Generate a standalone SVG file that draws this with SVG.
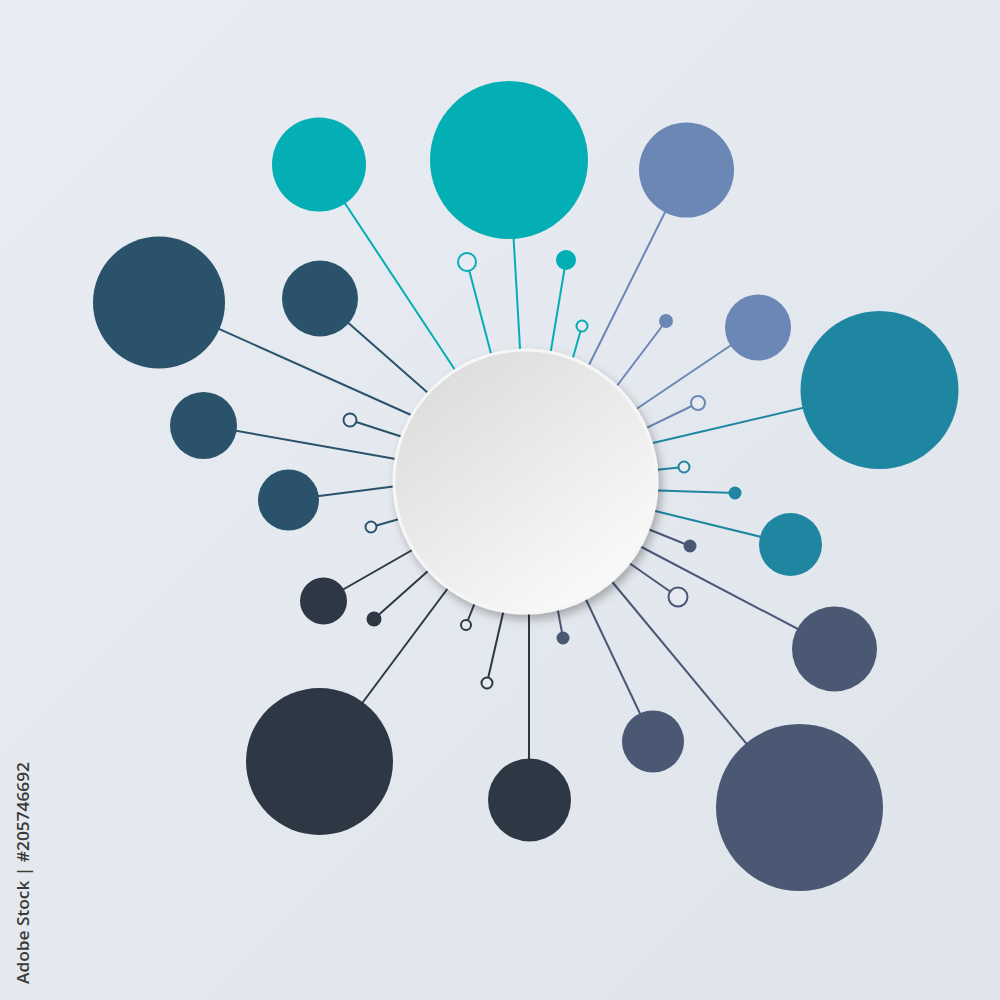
<svg xmlns="http://www.w3.org/2000/svg" width="1000" height="1000" viewBox="0 0 1000 1000">
<defs>
<linearGradient id="bg" x1="0" y1="0" x2="1" y2="1">
<stop offset="0" stop-color="#e9edf3"/>
<stop offset="1" stop-color="#dfe4eb"/>
</linearGradient>
<linearGradient id="hub" x1="0.2" y1="0.1" x2="0.85" y2="0.95">
<stop offset="0" stop-color="#dedede"/>
<stop offset="1" stop-color="#fbfbfb"/>
</linearGradient>
<filter id="shadow" x="-20%" y="-20%" width="140%" height="140%">
<feDropShadow dx="3" dy="5" stdDeviation="5" flood-color="#000" flood-opacity="0.28"/>
</filter>
<style>
.teal{fill:#03aeb4}.bg1{fill:#6b87b6}.tb{fill:#1f86a2}.sl{fill:#4b5874}.ch{fill:#2e3744}.db{fill:#2a526a}
.hteal{fill:#e7ebf1;stroke:#03aeb4;stroke-width:2}.hbg1{fill:#e7ebf1;stroke:#6b87b6;stroke-width:2}
.htb{fill:#e7ebf1;stroke:#1f86a2;stroke-width:2}.hsl{fill:#e7ebf1;stroke:#4b5874;stroke-width:2}
.hch{fill:#e7ebf1;stroke:#2e3744;stroke-width:2}.hdb{fill:#e7ebf1;stroke:#2a526a;stroke-width:2}
#connectors line{stroke-width:2;fill:none}
.lteal{stroke:#03aeb4}.lbg1{stroke:#6b87b6}.ltb{stroke:#1f86a2}.lsl{stroke:#4b5874}.lch{stroke:#2e3744}.ldb{stroke:#2a526a}
</style>
</defs>
<rect width="1000" height="1000" fill="url(#bg)"/>
<g id="connectors">
<line class="lteal" x1="509" y1="160" x2="521" y2="365"/>
<line class="lteal" x1="319" y1="164" x2="461" y2="379"/>
<line class="lteal" x1="467" y1="262" x2="494" y2="365"/>
<line class="lteal" x1="566" y1="260" x2="549" y2="362"/>
<line class="lteal" x1="582" y1="326" x2="570" y2="368"/>
<line class="lbg1" x1="686" y1="170" x2="583" y2="377"/>
<line class="lbg1" x1="666" y1="321" x2="610" y2="395"/>
<line class="lbg1" x1="758" y1="327" x2="626" y2="416"/>
<line class="lbg1" x1="698" y1="403" x2="636" y2="433"/>
<line class="ltb" x1="879" y1="390" x2="640" y2="446"/>
<line class="ltb" x1="684" y1="467" x2="645" y2="471"/>
<line class="ltb" x1="735" y1="493" x2="643" y2="490"/>
<line class="ltb" x1="790" y1="544" x2="643" y2="508"/>
<line class="lsl" x1="690" y1="546" x2="638" y2="525"/>
<line class="lsl" x1="834" y1="648" x2="632" y2="542"/>
<line class="lsl" x1="678" y1="597" x2="622" y2="558"/>
<line class="lsl" x1="799" y1="807" x2="604" y2="572"/>
<line class="lsl" x1="653" y1="741" x2="581" y2="589"/>
<line class="lsl" x1="563" y1="638" x2="556" y2="600"/>
<line class="lch" x1="529" y1="800" x2="529" y2="600"/>
<line class="lch" x1="487" y1="683" x2="506" y2="600"/>
<line class="lch" x1="466" y1="625" x2="478" y2="595"/>
<line class="lch" x1="319" y1="761" x2="454" y2="580"/>
<line class="lch" x1="374" y1="619" x2="437" y2="563"/>
<line class="lch" x1="323" y1="601" x2="421" y2="545"/>
<line class="ldb" x1="371" y1="527" x2="410" y2="516"/>
<line class="ldb" x1="288" y1="500" x2="405" y2="485"/>
<line class="ldb" x1="203" y1="425" x2="407" y2="461"/>
<line class="ldb" x1="350" y1="420" x2="412" y2="440"/>
<line class="ldb" x1="159" y1="302" x2="420" y2="419"/>
<line class="ldb" x1="320" y1="298" x2="436" y2="400"/>
</g>
<g id="n-teal-big"><circle class="teal" cx="509" cy="160" r="79"/></g>
<g id="n-teal-left"><circle class="teal" cx="319" cy="164.5" r="47"/></g>
<g id="n-teal-hollow"><circle class="hteal" cx="467" cy="262" r="9"/></g>
<g id="n-teal-dot"><circle class="teal" cx="566" cy="260" r="10"/></g>
<g id="n-teal-small"><circle class="hteal" cx="582" cy="326" r="5.5"/></g>
<g id="n-blue-top"><circle class="bg1" cx="686.5" cy="170" r="47.5"/></g>
<g id="n-blue-dot"><circle class="bg1" cx="666" cy="321" r="7"/></g>
<g id="n-blue-mid"><circle class="bg1" cx="758" cy="327.5" r="33"/></g>
<g id="n-blue-hollow"><circle class="hbg1" cx="698" cy="403" r="7"/></g>
<g id="n-tb-big"><circle class="tb" cx="879.5" cy="390" r="79"/></g>
<g id="n-tb-hollow"><circle class="htb" cx="684" cy="467" r="5.5"/></g>
<g id="n-tb-dot"><circle class="tb" cx="735" cy="493" r="6.5"/></g>
<g id="n-tb-mid"><circle class="tb" cx="790.5" cy="544.5" r="31.5"/></g>
<g id="n-sl-dot"><circle class="sl" cx="690" cy="546" r="6.5"/></g>
<g id="n-sl-mid"><circle class="sl" cx="834.5" cy="649" r="42.5"/></g>
<g id="n-sl-hollow"><circle class="hsl" cx="678" cy="597" r="9.5"/></g>
<g id="n-sl-big"><circle class="sl" cx="799.5" cy="807.5" r="83.5"/></g>
<g id="n-sl-small"><circle class="sl" cx="653" cy="741.5" r="31"/></g>
<g id="n-sl-dot2"><circle class="sl" cx="563" cy="638" r="6.5"/></g>
<g id="n-ch-bottom"><circle class="ch" cx="529.5" cy="800" r="41.5"/></g>
<g id="n-ch-hollow1"><circle class="hch" cx="487" cy="683" r="5.5"/></g>
<g id="n-ch-hollow2"><circle class="hch" cx="466" cy="625" r="5"/></g>
<g id="n-ch-big"><circle class="ch" cx="319.5" cy="761.5" r="73.5"/></g>
<g id="n-ch-dot"><circle class="ch" cx="374" cy="619" r="7.5"/></g>
<g id="n-ch-small"><circle class="ch" cx="323.5" cy="601" r="23.5"/></g>
<g id="n-db-hollow1"><circle class="hdb" cx="371" cy="527" r="5.5"/></g>
<g id="n-db-small"><circle class="db" cx="288.5" cy="500" r="30.5"/></g>
<g id="n-db-mid"><circle class="db" cx="203.5" cy="425.5" r="33.5"/></g>
<g id="n-db-hollow2"><circle class="hdb" cx="350" cy="420" r="6.5"/></g>
<g id="n-db-big"><circle class="db" cx="159" cy="302.5" r="66"/></g>
<g id="n-db-top"><circle class="db" cx="320" cy="298.5" r="38"/></g>
<g id="n-hub">
<circle cx="525.5" cy="481.5" r="133" fill="#f6f6f6" filter="url(#shadow)"/>
<circle cx="525.5" cy="481.5" r="130" fill="url(#hub)"/>
</g>
<text x="0" y="0" transform="translate(29,873) rotate(-90)" text-anchor="middle" font-family="'Open Sans','Liberation Sans',sans-serif" font-size="17" font-weight="600" fill="#3a3a3a" textLength="222" lengthAdjust="spacingAndGlyphs">Adobe Stock | #205746692</text>
</svg>
